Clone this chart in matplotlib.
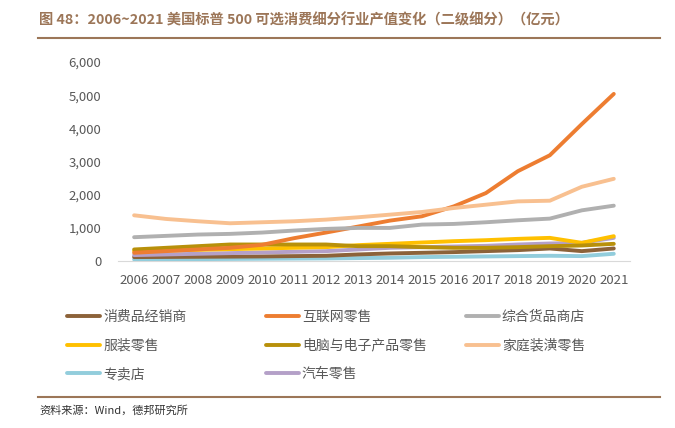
import matplotlib.pyplot as plt
import numpy as np

plt.rcParams['font.family'] = ['Noto Sans CJK SC', 'DejaVu Sans']

anos = list(range(2006, 2022))

# valores em 亿元
consumo = [120, 125, 130, 135, 140, 150, 160, 200, 230, 250, 270, 300, 330, 380, 300, 380]
internet = [250, 300, 350, 400, 490, 690, 860, 1040, 1220, 1350, 1650, 2050, 2710, 3190, 4130, 5040]
geral = [720, 760, 800, 820, 860, 920, 970, 1000, 1000, 1100, 1120, 1170, 1230, 1280, 1530, 1670]
roupa = [300, 320, 340, 360, 380, 400, 420, 480, 520, 560, 600, 630, 670, 700, 550, 750]
eletronico = [350, 400, 450, 500, 500, 500, 500, 450, 450, 420, 400, 400, 420, 450, 470, 520]
casa = [1380, 1270, 1200, 1140, 1170, 1200, 1250, 1320, 1400, 1480, 1600, 1700, 1800, 1820, 2240, 2480]
especial = [50, 55, 60, 65, 70, 75, 80, 90, 100, 120, 130, 140, 150, 160, 150, 220]
auto = [180, 200, 220, 240, 260, 280, 300, 350, 400, 420, 440, 460, 500, 530, 550, 700]

# colunas da legenda (como no original)
colunas = [
    [('消费品经销商', consumo, '#8c6239'),
     ('服装零售', roupa, '#ffc000'),
     ('专卖店', especial, '#92cddc')],
    [('互联网零售', internet, '#ed7d31'),
     ('电脑与电子产品零售', eletronico, '#b8900a'),
     ('汽车零售', auto, '#b4a0c8')],
    [('综合货品商店', geral, '#b0b0b0'),
     ('家庭装潢零售', casa, '#f8c090')],
]
ordem_desenho = ['家庭装潢零售', '综合货品商店', '互联网零售', '电脑与电子产品零售',
                 '服装零售', '汽车零售', '消费品经销商', '专卖店']

fig = plt.figure(figsize=(6.75, 4.28), dpi=100)
ax = fig.add_axes([0.175, 0.39, 0.758, 0.465])

linhas = {}
for col in colunas:
    for nome, vals, cor in col:
        z = 10 - ordem_desenho.index(nome) * 0.1
        linhas[nome], = ax.plot(anos, vals, color=cor, lw=2.8, label=nome,
                                solid_capstyle='round', zorder=z)

ax.set_xlim(2005.5, 2021.5)
ax.set_ylim(0, 6000)
ax.set_xticks(anos)
ax.set_yticks(range(0, 6001, 1000))
ax.set_yticklabels([f'{v:,}' for v in range(0, 6001, 1000)])
ax.tick_params(axis='both', length=0, labelsize=9.5, colors='#595959')
ax.tick_params(axis='y', pad=12)
ax.tick_params(axis='x', pad=9)
for s in ['top', 'right', 'left']:
    ax.spines[s].set_visible(False)
ax.spines['bottom'].set_color('#d9d9d9')

# uma legenda por coluna, posições fixas
xs_leg = [0.0993, 0.394, 0.690]
for x0, col in zip(xs_leg, colunas):
    leg = fig.legend(handles=[linhas[n] for n, _, _ in col], labels=[n for n, _, _ in col],
                     loc='upper left', bbox_to_anchor=(x0, 0.276), frameon=False,
                     borderpad=0, borderaxespad=0, handlelength=2.37, handletextpad=0.22,
                     labelspacing=1.05, fontsize=10)
    for t in leg.get_texts():
        t.set_color('#595959')

cor_tit = '#9c7658'
fig.text(0.058, 0.952, '图 48：2006~2021 美国标普 500 可选消费细分行业产值变化（二级细分）（亿元）',
         fontsize=10.3, fontweight='bold', color=cor_tit, va='center')
fig.add_artist(plt.Line2D([0.056, 0.978], [0.911, 0.911], color=cor_tit, lw=1.5))
fig.add_artist(plt.Line2D([0.056, 0.978], [0.072, 0.072], color=cor_tit, lw=1.5))
fig.text(0.058, 0.042, '资料来源：Wind，德邦研究所', fontsize=8, color='#333333', va='center')

plt.savefig('out.png', dpi=100)
